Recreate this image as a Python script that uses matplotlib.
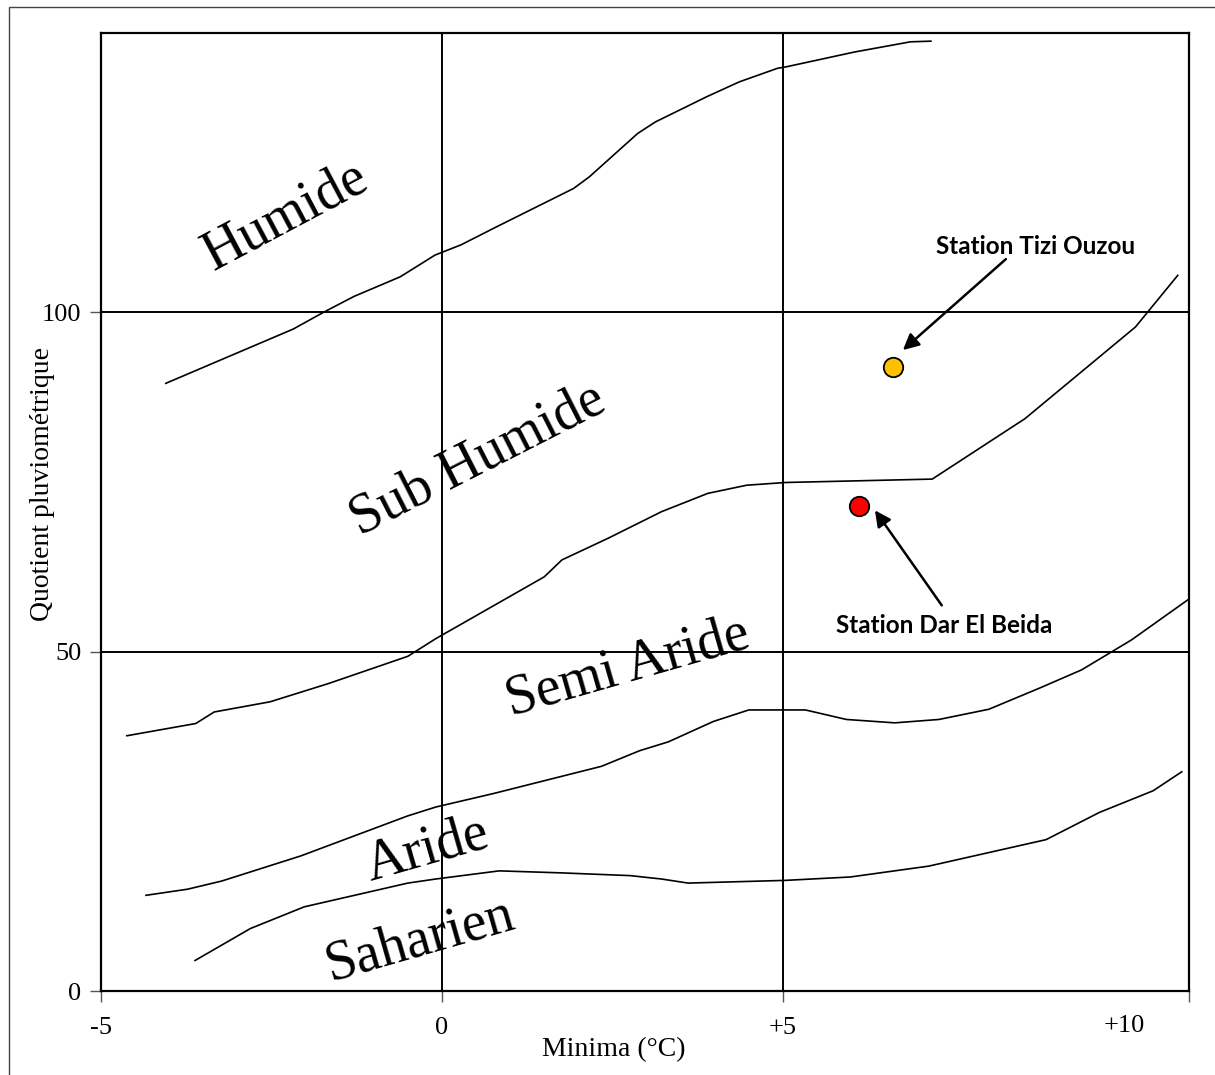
import matplotlib.pyplot as plt
from matplotlib.patches import Rectangle

# Climagramme d'Emberger : limites des étages (Minima en °C, Q2)
humide_x = [-4.05, -2.18, -1.73, -1.29, -0.61, -0.10, 0.28, 0.81, 1.93, 2.16,
            2.87, 3.13, 3.88, 4.36, 4.92, 5.04, 6.05, 6.87, 7.17]
humide_y = [89.5, 97.5, 100.0, 102.3, 105.2, 108.4, 109.9, 112.6, 118.2, 119.9,
            126.3, 128.0, 131.7, 133.9, 135.9, 136.1, 138.3, 139.8, 139.9]

subhumide_x = [-4.62, -3.61, -3.34, -2.52, -1.66, -0.50, -0.09, 1.50, 1.76, 2.44,
               3.22, 3.90, 4.47, 5.04, 7.19, 8.55, 10.17, 10.79]
subhumide_y = [37.6, 39.4, 41.1, 42.6, 45.3, 49.3, 51.9, 61.0, 63.5, 66.7,
               70.6, 73.3, 74.5, 74.9, 75.4, 84.3, 97.8, 105.4]

semiaride_x = [-4.34, -3.73, -3.23, -2.07, -0.50, -0.09, 0.76, 2.34, 2.90, 3.32,
               3.98, 4.50, 5.33, 5.93, 6.64, 7.29, 8.02, 8.76, 9.38, 10.11, 10.95]
semiaride_y = [14.1, 15.0, 16.2, 19.9, 25.8, 27.1, 29.1, 33.1, 35.4, 36.7,
               39.7, 41.4, 41.4, 40.0, 39.5, 40.0, 41.5, 44.6, 47.3, 51.7, 57.7]

aride_x = [-3.62, -2.81, -2.02, -0.50, -0.09, 0.84, 1.76, 2.76, 3.22, 3.61,
           5.04, 5.99, 7.14, 8.86, 9.64, 10.43, 10.85]
aride_y = [4.5, 9.2, 12.4, 15.9, 16.5, 17.7, 17.4, 17.0, 16.5, 15.9,
           16.3, 16.8, 18.4, 22.3, 26.3, 29.5, 32.3]

limites = [(humide_x, humide_y), (subhumide_x, subhumide_y),
           (semiaride_x, semiaride_y), (aride_x, aride_y)]

# étages : nom, position, rotation
etages = ['Humide', 'Sub Humide', 'Semi Aride', 'Aride', 'Saharien']
etages_x = [-2.29, 0.53, 2.73, -0.22, -0.32]
etages_y = [114.1, 78.2, 47.7, 20.8, 7.5]
etages_rot = [28, 27, 16, 16, 16]

# stations
stations = ['Station Tizi Ouzou', 'Station Dar El Beida']
stations_m = [6.61, 6.12]
stations_q2 = [91.9, 71.4]
stations_col = ['#FFC000', '#FF0000']
fleche_debut = [(8.27, 107.8), (7.33, 56.8)]
fleche_fin = [(6.76, 94.4), (6.35, 70.8)]
texte_pos = [(8.70, 109.7), (7.36, 53.8)]

xmin, xmax = -5, 10.95
ymin, ymax = 0, 141.1

plt.rcParams['font.family'] = 'Liberation Serif'

fig = plt.figure(figsize=(12.15, 10.75), dpi=100)
ax = fig.add_axes([0.0831, 0.0781, 0.8952, 0.8912])
ax.set_xlim(xmin, xmax)
ax.set_ylim(ymin, ymax)

# cadre extérieur
fig.patches.append(Rectangle((0.0074, -0.02), 1.0, 1.0135, transform=fig.transFigure,
                             fill=False, edgecolor='#444444', lw=1.0))

for s in ax.spines.values():
    s.set_linewidth(1.6)
    s.set_color('black')

# quadrillage
for xv in [0, 5]:
    ax.axvline(xv, color='black', lw=1.4, zorder=1)
for yv in [50, 100]:
    ax.axhline(yv, color='black', lw=1.4, zorder=1)

for lx, ly in limites:
    ax.plot(lx, ly, color='black', lw=1.2, zorder=2)

for nom, x, y, r in zip(etages, etages_x, etages_y, etages_rot):
    ax.text(x, y, nom, fontsize=40, rotation=r, ha='center', va='center',
            rotation_mode='anchor')

for i in range(len(stations)):
    ax.annotate('', xy=fleche_fin[i], xytext=fleche_debut[i],
                arrowprops=dict(arrowstyle='-|>', color='black', lw=1.8,
                                mutation_scale=24, shrinkA=0, shrinkB=0))
    ax.plot(stations_m[i], stations_q2[i], 'o', ms=14, mfc=stations_col[i],
            mec='black', mew=1.3, zorder=4)
    ax.text(texte_pos[i][0], texte_pos[i][1], stations[i], family='Lato',
            fontweight='bold', fontsize=17.5, ha='center', va='center')

# graduations
ax.set_xticks([-5, 0, 5, xmax], ['-5', '0', '+5', ''])
ax.set_xticks([10], ['+10'], minor=True)
ax.set_yticks([0, 50, 100], ['0', '50', '100'])
ax.tick_params(axis='x', which='major', direction='out', length=8, width=1,
               color='#555555', pad=11, labelsize=19)
ax.tick_params(axis='x', which='minor', length=0, pad=17, labelsize=19)
ax.tick_params(axis='y', direction='out', length=8, width=1, color='#555555',
               pad=6, labelsize=19)

ax.set_xlabel('Minima (°C)', fontsize=20)
ax.xaxis.set_label_coords(0.4716, -0.0616)
ax.xaxis.label.set_va('center')
ax.set_ylabel('Quotient pluviométrique', fontsize=20)
ax.yaxis.set_label_coords(-0.0542, 0.529)
ax.yaxis.label.set_va('center')

fig.savefig('out.png', dpi=100)
